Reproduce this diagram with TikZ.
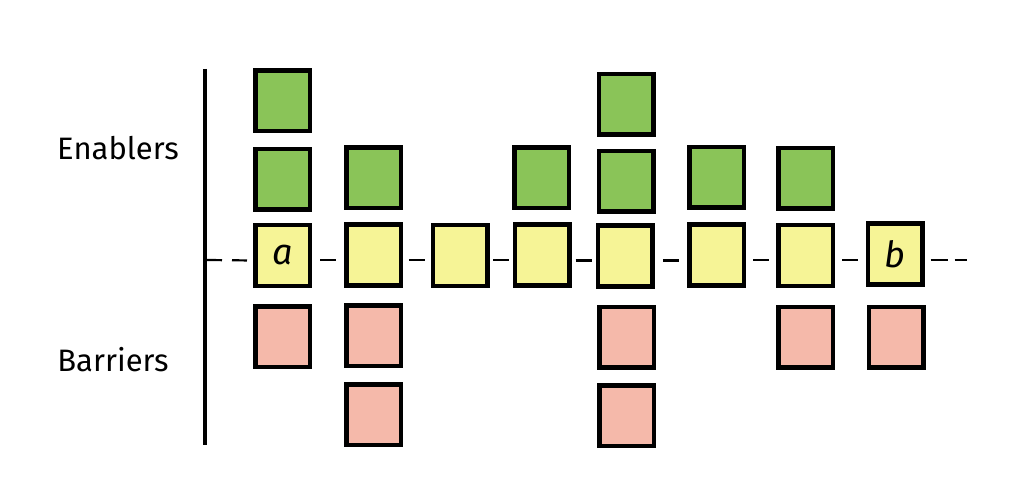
\documentclass[tikz,border=0pt]{standalone}
\usepackage{fontspec}
\setmainfont{Fira Sans}
\usetikzlibrary{calc}
\definecolor{gfill}{RGB}{138,196,88}
\definecolor{yfill}{RGB}{246,244,150}
\definecolor{rfill}{RGB}{245,185,170}
\tikzset{
  cell/.style={draw=black, line width=4.5pt, minimum width=54.5pt, minimum height=60.5pt, inner sep=0pt},
  enab/.style={cell, fill=gfill},
  link/.style={cell, fill=yfill},
  barr/.style={cell, fill=rfill},
  lbl/.style={font=\fontsize{31}{36}\selectfont, inner sep=0pt},
  letter/.style={font=\fontsize{36}{40}\selectfont\itshape},
  dashln/.style={line width=2.2pt}
}
\begin{document}
\begin{tikzpicture}[x=1pt,y=-1pt]
\useasboundingbox (0,0) rectangle (1012,489);
% axis
\coordinate (axT) at (205,69);
\coordinate (axB) at (205,445);
\coordinate (axM) at (207,260);
\draw[line width=4.5pt] (axT) -- (axB);
% labels
\node[lbl] (enl) at (118,148) {Enablers};
\node[lbl] (bal) at (113,360) {Barriers};
% enablers
\node[enab] (g1a) at (282.5,101) {};
\node[enab] (g1b) at (282.5,179.5) {};
\node[enab] (g2) at (373.5,178) {};
\node[enab] (g4) at (541.5,178) {};
\node[enab] (g5a) at (626,104.5) {};
\node[enab] (g5b) at (626,181.5) {};
\node[enab] (g6) at (716.5,177.5) {};
\node[enab] (g7) at (805.5,178.5) {};
% chain
\node[link,letter] (y1) at (282.5,255.5) {a};
\node[link] (y2) at (373.5,255) {};
\node[link] (y3) at (460,255.5) {};
\node[link] (y4) at (542,255) {};
\node[link] (y5) at (625,256) {};
\node[link] (y6) at (716.5,255) {};
\node[link] (y7) at (805.5,255.5) {};
\node[link,letter] (y8) at (895,254) {b};
% barriers
\node[barr] (r1) at (282.5,336.5) {};
\node[barr] (r2) at (373.5,335.5) {};
\node[barr] (r5) at (626.5,337) {};
\node[barr] (r7) at (805.5,337) {};
\node[barr] (r8) at (896,337) {};
\node[barr] (r2b) at (373.5,414.5) {};
\node[barr] (r5b) at (626.5,415.5) {};
% dashes
\draw[dashln, dash pattern=on 15pt off 10pt] (axM) -- ([yshift=-5pt]y1.west);
\foreach \p/\q in {y1/y2,y2/y3,y3/y4,y4/y5,y5/y6,y6/y7,y7/y8}{
  \path ([yshift=-5pt]\p.east) -- ([yshift=-5pt]\q.west) coordinate[pos=0.5] (m\p);
  \draw[dashln] ([xshift=-8pt]m\p) -- ([xshift=8pt]m\p);
}
\coordinate (rEnd) at (967,260);
\draw[dashln, dash pattern=on 17pt off 7pt on 12pt off 20pt, shorten <=6pt] ([yshift=-6pt]y8.east) -- (rEnd);
\end{tikzpicture}
\end{document}
